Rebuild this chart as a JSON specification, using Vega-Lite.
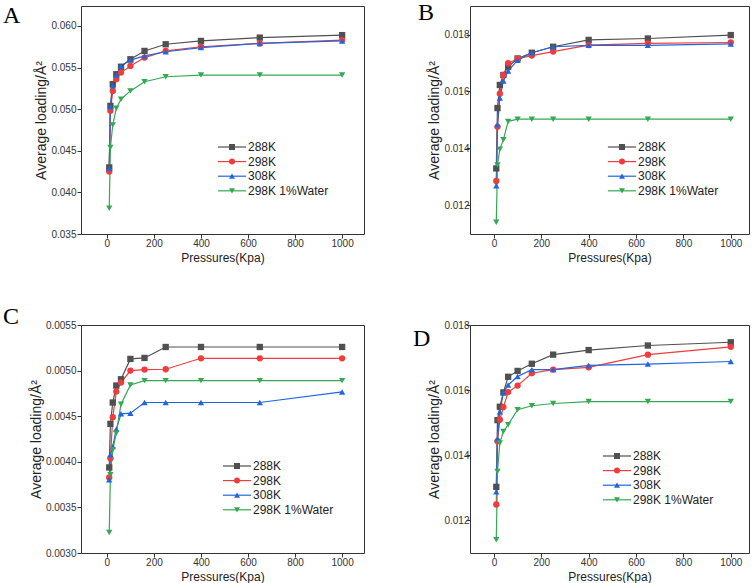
{
  "$schema": "https://vega.github.io/schema/vega-lite/v6.json",
  "background": "white",
  "padding": {"left": 2, "top": 0, "right": 0, "bottom": 0},
  "autosize": {"type": "pad"},
  "config": {
    "font": "Liberation Sans",
    "view": {"stroke": "#333333", "strokeWidth": 1},
    "axis": {
      "grid": false,
      "domain": false,
      "ticks": true,
      "tickColor": "#333333",
      "tickSize": 4,
      "labelFont": "Liberation Sans",
      "labelFontSize": 10,
      "labelColor": "#333333",
      "titleFont": "Liberation Sans",
      "titleFontWeight": "normal",
      "titleColor": "#222222"
    },
    "axisX": {"labelPadding": 0, "titleFontSize": 12, "titlePadding": 4},
    "axisY": {"labelPadding": 1, "titleFontSize": 14, "titlePadding": 2},
    "legend": {
      "labelFont": "Liberation Sans",
      "labelFontSize": 12,
      "labelColor": "#222222",
      "symbolSize": 36,
      "symbolOffset": 0,
      "labelOffset": 10,
      "rowPadding": 2.6,
      "padding": 0,
      "title": null,
      "orient": "none"
    },
    "title": {
      "font": "Liberation Serif",
      "fontSize": 24,
      "fontWeight": "normal",
      "color": "#000000",
      "anchor": "start",
      "frame": "group",
      "baseline": "bottom",
      "offset": 0
    }
  },
  "datasets": {
    "A": [
      {"p": 10, "v": 0.0430, "s": "288K"}, {"p": 15, "v": 0.0504, "s": "288K"}, {"p": 25, "v": 0.0530, "s": "288K"}, {"p": 40, "v": 0.0542, "s": "288K"}, {"p": 60, "v": 0.0551, "s": "288K"}, {"p": 100, "v": 0.0560, "s": "288K"}, {"p": 160, "v": 0.0570, "s": "288K"}, {"p": 250, "v": 0.0578, "s": "288K"}, {"p": 400, "v": 0.0582, "s": "288K"}, {"p": 650, "v": 0.0586, "s": "288K"}, {"p": 1000, "v": 0.0589, "s": "288K"},
      {"p": 10, "v": 0.0425, "s": "298K"}, {"p": 15, "v": 0.0498, "s": "298K"}, {"p": 25, "v": 0.0522, "s": "298K"}, {"p": 40, "v": 0.0536, "s": "298K"}, {"p": 60, "v": 0.0544, "s": "298K"}, {"p": 100, "v": 0.0552, "s": "298K"}, {"p": 160, "v": 0.0562, "s": "298K"}, {"p": 250, "v": 0.0570, "s": "298K"}, {"p": 400, "v": 0.0575, "s": "298K"}, {"p": 650, "v": 0.0579, "s": "298K"}, {"p": 1000, "v": 0.0583, "s": "298K"},
      {"p": 10, "v": 0.0429, "s": "308K"}, {"p": 15, "v": 0.0503, "s": "308K"}, {"p": 25, "v": 0.0528, "s": "308K"}, {"p": 40, "v": 0.0541, "s": "308K"}, {"p": 60, "v": 0.0552, "s": "308K"}, {"p": 100, "v": 0.0559, "s": "308K"}, {"p": 160, "v": 0.0564, "s": "308K"}, {"p": 250, "v": 0.0569, "s": "308K"}, {"p": 400, "v": 0.0574, "s": "308K"}, {"p": 650, "v": 0.0579, "s": "308K"}, {"p": 1000, "v": 0.0582, "s": "308K"},
      {"p": 10, "v": 0.0381, "s": "298K 1%Water"}, {"p": 15, "v": 0.0454, "s": "298K 1%Water"}, {"p": 25, "v": 0.0481, "s": "298K 1%Water"}, {"p": 40, "v": 0.0501, "s": "298K 1%Water"}, {"p": 60, "v": 0.0512, "s": "298K 1%Water"}, {"p": 100, "v": 0.0522, "s": "298K 1%Water"}, {"p": 160, "v": 0.0533, "s": "298K 1%Water"}, {"p": 250, "v": 0.0539, "s": "298K 1%Water"}, {"p": 400, "v": 0.0541, "s": "298K 1%Water"}, {"p": 650, "v": 0.0541, "s": "298K 1%Water"}, {"p": 1000, "v": 0.0541, "s": "298K 1%Water"}
    ],
    "B": [
      {"p": 10, "v": 0.01330, "s": "288K"}, {"p": 15, "v": 0.01542, "s": "288K"}, {"p": 25, "v": 0.01623, "s": "288K"}, {"p": 40, "v": 0.01658, "s": "288K"}, {"p": 60, "v": 0.01687, "s": "288K"}, {"p": 100, "v": 0.01716, "s": "288K"}, {"p": 160, "v": 0.01736, "s": "288K"}, {"p": 250, "v": 0.01757, "s": "288K"}, {"p": 400, "v": 0.01781, "s": "288K"}, {"p": 650, "v": 0.01786, "s": "288K"}, {"p": 1000, "v": 0.01798, "s": "288K"},
      {"p": 10, "v": 0.01286, "s": "298K"}, {"p": 15, "v": 0.01476, "s": "298K"}, {"p": 25, "v": 0.01592, "s": "298K"}, {"p": 40, "v": 0.01658, "s": "298K"}, {"p": 60, "v": 0.01699, "s": "298K"}, {"p": 100, "v": 0.01715, "s": "298K"}, {"p": 160, "v": 0.01726, "s": "298K"}, {"p": 250, "v": 0.01740, "s": "298K"}, {"p": 400, "v": 0.01763, "s": "298K"}, {"p": 650, "v": 0.01769, "s": "298K"}, {"p": 1000, "v": 0.01772, "s": "298K"},
      {"p": 10, "v": 0.01269, "s": "308K"}, {"p": 15, "v": 0.01484, "s": "308K"}, {"p": 25, "v": 0.01577, "s": "308K"}, {"p": 40, "v": 0.01637, "s": "308K"}, {"p": 60, "v": 0.01672, "s": "308K"}, {"p": 100, "v": 0.01710, "s": "308K"}, {"p": 160, "v": 0.01736, "s": "308K"}, {"p": 250, "v": 0.01757, "s": "308K"}, {"p": 400, "v": 0.01762, "s": "308K"}, {"p": 650, "v": 0.01762, "s": "308K"}, {"p": 1000, "v": 0.01767, "s": "308K"},
      {"p": 10, "v": 0.01141, "s": "298K 1%Water"}, {"p": 15, "v": 0.01342, "s": "298K 1%Water"}, {"p": 25, "v": 0.01397, "s": "298K 1%Water"}, {"p": 40, "v": 0.01431, "s": "298K 1%Water"}, {"p": 60, "v": 0.01495, "s": "298K 1%Water"}, {"p": 100, "v": 0.01503, "s": "298K 1%Water"}, {"p": 160, "v": 0.01503, "s": "298K 1%Water"}, {"p": 250, "v": 0.01503, "s": "298K 1%Water"}, {"p": 400, "v": 0.01503, "s": "298K 1%Water"}, {"p": 650, "v": 0.01503, "s": "298K 1%Water"}, {"p": 1000, "v": 0.01503, "s": "298K 1%Water"}
    ],
    "C": [
      {"p": 10, "v": 0.003938, "s": "288K"}, {"p": 15, "v": 0.004416, "s": "288K"}, {"p": 25, "v": 0.004650, "s": "288K"}, {"p": 40, "v": 0.004836, "s": "288K"}, {"p": 60, "v": 0.004905, "s": "288K"}, {"p": 100, "v": 0.005128, "s": "288K"}, {"p": 160, "v": 0.005139, "s": "288K"}, {"p": 250, "v": 0.005259, "s": "288K"}, {"p": 400, "v": 0.005259, "s": "288K"}, {"p": 650, "v": 0.005259, "s": "288K"}, {"p": 1000, "v": 0.005259, "s": "288K"},
      {"p": 10, "v": 0.003828, "s": "298K"}, {"p": 15, "v": 0.004040, "s": "298K"}, {"p": 25, "v": 0.004489, "s": "298K"}, {"p": 40, "v": 0.004770, "s": "298K"}, {"p": 60, "v": 0.004869, "s": "298K"}, {"p": 100, "v": 0.005000, "s": "298K"}, {"p": 160, "v": 0.005011, "s": "298K"}, {"p": 250, "v": 0.005015, "s": "298K"}, {"p": 400, "v": 0.005135, "s": "298K"}, {"p": 650, "v": 0.005135, "s": "298K"}, {"p": 1000, "v": 0.005135, "s": "298K"},
      {"p": 10, "v": 0.003803, "s": "308K"}, {"p": 15, "v": 0.004077, "s": "308K"}, {"p": 25, "v": 0.004168, "s": "308K"}, {"p": 40, "v": 0.004358, "s": "308K"}, {"p": 60, "v": 0.004526, "s": "308K"}, {"p": 100, "v": 0.004533, "s": "308K"}, {"p": 160, "v": 0.004650, "s": "308K"}, {"p": 250, "v": 0.004650, "s": "308K"}, {"p": 400, "v": 0.004650, "s": "308K"}, {"p": 650, "v": 0.004650, "s": "308K"}, {"p": 1000, "v": 0.004766, "s": "308K"},
      {"p": 10, "v": 0.003226, "s": "298K 1%Water"}, {"p": 15, "v": 0.003858, "s": "298K 1%Water"}, {"p": 25, "v": 0.004131, "s": "298K 1%Water"}, {"p": 40, "v": 0.004314, "s": "298K 1%Water"}, {"p": 60, "v": 0.004631, "s": "298K 1%Water"}, {"p": 100, "v": 0.004843, "s": "298K 1%Water"}, {"p": 160, "v": 0.004890, "s": "298K 1%Water"}, {"p": 250, "v": 0.004890, "s": "298K 1%Water"}, {"p": 400, "v": 0.004890, "s": "298K 1%Water"}, {"p": 650, "v": 0.004890, "s": "298K 1%Water"}, {"p": 1000, "v": 0.004890, "s": "298K 1%Water"}
    ],
    "D": [
      {"p": 10, "v": 0.01303, "s": "288K"}, {"p": 15, "v": 0.01508, "s": "288K"}, {"p": 25, "v": 0.01549, "s": "288K"}, {"p": 40, "v": 0.01593, "s": "288K"}, {"p": 60, "v": 0.01641, "s": "288K"}, {"p": 100, "v": 0.01659, "s": "288K"}, {"p": 160, "v": 0.01681, "s": "288K"}, {"p": 250, "v": 0.01709, "s": "288K"}, {"p": 400, "v": 0.01723, "s": "288K"}, {"p": 650, "v": 0.01737, "s": "288K"}, {"p": 1000, "v": 0.01747, "s": "288K"},
      {"p": 10, "v": 0.01249, "s": "298K"}, {"p": 15, "v": 0.01443, "s": "298K"}, {"p": 25, "v": 0.01509, "s": "298K"}, {"p": 40, "v": 0.01548, "s": "298K"}, {"p": 60, "v": 0.01594, "s": "298K"}, {"p": 100, "v": 0.01614, "s": "298K"}, {"p": 160, "v": 0.01652, "s": "298K"}, {"p": 250, "v": 0.01663, "s": "298K"}, {"p": 400, "v": 0.01670, "s": "298K"}, {"p": 650, "v": 0.01709, "s": "298K"}, {"p": 1000, "v": 0.01733, "s": "298K"},
      {"p": 10, "v": 0.01288, "s": "308K"}, {"p": 15, "v": 0.01451, "s": "308K"}, {"p": 25, "v": 0.01534, "s": "308K"}, {"p": 40, "v": 0.01593, "s": "308K"}, {"p": 60, "v": 0.01616, "s": "308K"}, {"p": 100, "v": 0.01642, "s": "308K"}, {"p": 160, "v": 0.01663, "s": "308K"}, {"p": 250, "v": 0.01663, "s": "308K"}, {"p": 400, "v": 0.01676, "s": "308K"}, {"p": 650, "v": 0.01680, "s": "308K"}, {"p": 1000, "v": 0.01688, "s": "308K"},
      {"p": 10, "v": 0.01141, "s": "298K 1%Water"}, {"p": 15, "v": 0.01350, "s": "298K 1%Water"}, {"p": 25, "v": 0.01438, "s": "298K 1%Water"}, {"p": 40, "v": 0.01473, "s": "298K 1%Water"}, {"p": 60, "v": 0.01494, "s": "298K 1%Water"}, {"p": 100, "v": 0.01540, "s": "298K 1%Water"}, {"p": 160, "v": 0.01552, "s": "298K 1%Water"}, {"p": 250, "v": 0.01559, "s": "298K 1%Water"}, {"p": 400, "v": 0.01565, "s": "298K 1%Water"}, {"p": 650, "v": 0.01565, "s": "298K 1%Water"}, {"p": 1000, "v": 0.01565, "s": "298K 1%Water"}
    ]
  },
  "columns": 2,
  "bounds": "flush",
  "spacing": {"row": 91, "column": 106},
  "resolve": {
    "scale": {"color": "independent", "shape": "independent", "stroke": "independent"},
    "legend": {"color": "independent", "shape": "independent", "stroke": "independent"}
  },
  "concat": [
    {
      "data": {"name": "A"},
      "width": 283,
      "height": 228,
      "title": {"text": "A", "dx": -78, "dy": 26},
      "encoding": {
        "x": {"field": "p", "type": "quantitative", "scale": {"domain": [-110, 1093], "nice": false, "zero": false}, "axis": {"values": [0, 200, 400, 600, 800, 1000], "format": "d", "title": "Pressures(Kpa)"}},
        "y": {"field": "v", "type": "quantitative", "scale": {"domain": [0.035, 0.0624], "nice": false, "zero": false}, "axis": {"values": [0.035, 0.04, 0.045, 0.05, 0.055, 0.06], "format": ".3f", "title": "Average loading/Å²"}}
      },
      "layer": [
        {"mark": {"type": "line", "strokeWidth": 1.2},
         "encoding": {"stroke": {"field": "s", "type": "nominal", "sort": null, "scale": {"range": ["#505050", "#f03c3c", "#2266dd", "#35a853"]},
           "legend": {"legendX": 145, "legendY": 135, "symbolType": "M-4.7,0H4.7", "symbolStrokeWidth": 1.2, "labelOpacity": 0}}}},
        {"mark": {"type": "point", "filled": true, "size": 40, "opacity": 1},
         "encoding": {
           "color": {"field": "s", "type": "nominal", "scale": {"domain": ["288K", "298K", "308K", "298K 1%Water"], "range": ["#505050", "#f03c3c", "#2266dd", "#35a853"]}, "legend": {"legendX": 145, "legendY": 135}},
           "shape": {"field": "s", "type": "nominal", "scale": {"domain": ["288K", "298K", "308K", "298K 1%Water"], "range": ["square", "circle", "triangle-up", "triangle-down"]}, "legend": {"legendX": 145, "legendY": 135}}}}
      ]
    },
    {
      "data": {"name": "B"},
      "width": 279,
      "height": 228,
      "title": {"text": "B", "dx": -52, "dy": 23},
      "encoding": {
        "x": {"field": "p", "type": "quantitative", "scale": {"domain": [-101, 1077], "nice": false, "zero": false}, "axis": {"values": [0, 200, 400, 600, 800, 1000], "format": "d", "title": "Pressures(Kpa)"}},
        "y": {"field": "v", "type": "quantitative", "scale": {"domain": [0.011, 0.019], "nice": false, "zero": false}, "axis": {"values": [0.012, 0.014, 0.016, 0.018], "format": ".3f", "labelPadding": -3, "title": "Average loading/Å²"}}
      },
      "layer": [
        {"mark": {"type": "line", "strokeWidth": 1.2},
         "encoding": {"stroke": {"field": "s", "type": "nominal", "sort": null, "scale": {"range": ["#505050", "#f03c3c", "#2266dd", "#35a853"]},
           "legend": {"legendX": 146, "legendY": 135, "symbolType": "M-4.7,0H4.7", "symbolStrokeWidth": 1.2, "labelOpacity": 0}}}},
        {"mark": {"type": "point", "filled": true, "size": 40, "opacity": 1},
         "encoding": {
           "color": {"field": "s", "type": "nominal", "scale": {"domain": ["288K", "298K", "308K", "298K 1%Water"], "range": ["#505050", "#f03c3c", "#2266dd", "#35a853"]}, "legend": {"legendX": 146, "legendY": 135}},
           "shape": {"field": "s", "type": "nominal", "scale": {"domain": ["288K", "298K", "308K", "298K 1%Water"], "range": ["square", "circle", "triangle-up", "triangle-down"]}, "legend": {"legendX": 146, "legendY": 135}}}}
      ]
    },
    {
      "data": {"name": "C"},
      "width": 283,
      "height": 228,
      "title": {"text": "C", "dx": -78, "dy": 13},
      "encoding": {
        "x": {"field": "p", "type": "quantitative", "scale": {"domain": [-110, 1093], "nice": false, "zero": false}, "axis": {"values": [0, 200, 400, 600, 800, 1000], "format": "d", "title": "Pressures(Kpa)"}},
        "y": {"field": "v", "type": "quantitative", "scale": {"domain": [0.003, 0.0055], "nice": false, "zero": false}, "axis": {"values": [0.003, 0.0035, 0.004, 0.0045, 0.005, 0.0055], "format": ".4f", "title": "Average loading/Å²"}}
      },
      "layer": [
        {"mark": {"type": "line", "strokeWidth": 1.2},
         "encoding": {"stroke": {"field": "s", "type": "nominal", "sort": null, "scale": {"range": ["#505050", "#f03c3c", "#2266dd", "#35a853"]},
           "legend": {"legendX": 150, "legendY": 135, "symbolType": "M-4.7,0H4.7", "symbolStrokeWidth": 1.2, "labelOpacity": 0}}}},
        {"mark": {"type": "point", "filled": true, "size": 40, "opacity": 1},
         "encoding": {
           "color": {"field": "s", "type": "nominal", "scale": {"domain": ["288K", "298K", "308K", "298K 1%Water"], "range": ["#505050", "#f03c3c", "#2266dd", "#35a853"]}, "legend": {"legendX": 150, "legendY": 135}},
           "shape": {"field": "s", "type": "nominal", "scale": {"domain": ["288K", "298K", "308K", "298K 1%Water"], "range": ["square", "circle", "triangle-up", "triangle-down"]}, "legend": {"legendX": 150, "legendY": 135}}}}
      ]
    },
    {
      "data": {"name": "D"},
      "width": 279,
      "height": 228,
      "title": {"text": "D", "dx": -57, "dy": 35},
      "encoding": {
        "x": {"field": "p", "type": "quantitative", "scale": {"domain": [-101, 1077], "nice": false, "zero": false}, "axis": {"values": [0, 200, 400, 600, 800, 1000], "format": "d", "title": "Pressures(Kpa)"}},
        "y": {"field": "v", "type": "quantitative", "scale": {"domain": [0.011, 0.018], "nice": false, "zero": false}, "axis": {"values": [0.012, 0.014, 0.016, 0.018], "format": ".3f", "labelPadding": -3, "title": "Average loading/Å²"}}
      },
      "layer": [
        {"mark": {"type": "line", "strokeWidth": 1.2},
         "encoding": {"stroke": {"field": "s", "type": "nominal", "sort": null, "scale": {"range": ["#505050", "#f03c3c", "#2266dd", "#35a853"]},
           "legend": {"legendX": 141, "legendY": 125, "symbolType": "M-4.7,0H4.7", "symbolStrokeWidth": 1.2, "labelOpacity": 0}}}},
        {"mark": {"type": "point", "filled": true, "size": 40, "opacity": 1},
         "encoding": {
           "color": {"field": "s", "type": "nominal", "scale": {"domain": ["288K", "298K", "308K", "298K 1%Water"], "range": ["#505050", "#f03c3c", "#2266dd", "#35a853"]}, "legend": {"legendX": 141, "legendY": 125}},
           "shape": {"field": "s", "type": "nominal", "scale": {"domain": ["288K", "298K", "308K", "298K 1%Water"], "range": ["square", "circle", "triangle-up", "triangle-down"]}, "legend": {"legendX": 141, "legendY": 125}}}}
      ]
    }
  ]
}
